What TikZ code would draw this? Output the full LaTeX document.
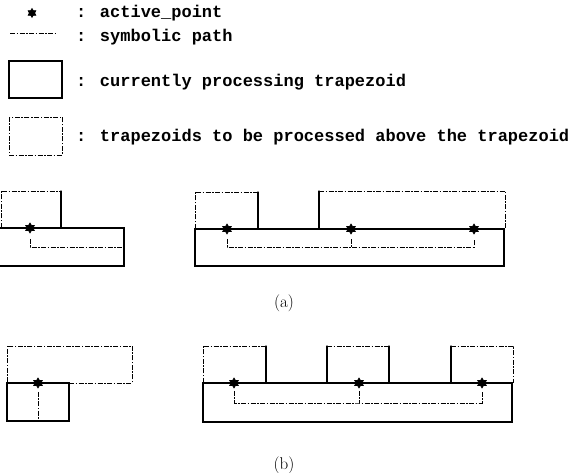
\documentclass[tikz,border=0pt]{standalone}
\usepackage{fontspec}
\newfontfamily\legendfont{Liberation Mono}
\usetikzlibrary{shapes.geometric}

\begin{document}
\begin{tikzpicture}[x=1pt, y=-1pt,
        cur/.style={line width=1.3pt, line cap=round},
        pend/.style={line width=0.7pt, dash pattern=on 5pt off 1.5pt on 1.5pt off 1.5pt},
        sym/.style={line width=0.7pt, dash pattern=on 5pt off 1.5pt on 1.5pt off 1.5pt},
        act/.style={star, star points=6, star point ratio=1.7, draw, line width=0.6pt, fill=black, inner sep=0pt, minimum size=10pt},
        leg/.style={anchor=base west, inner sep=0pt, font=\legendfont\bfseries\fontsize{17}{17}\selectfont},
        capt/.style={inner sep=0pt, font=\fontsize{17}{17}\selectfont}]
        \useasboundingbox (0,0) rectangle (574,473);
        % legend
        \node[act, minimum size=9pt] (lact) at (32,13) {};
        \node[leg] (tact) at (76,18) {: active\_point};
        \coordinate (ls1) at (10,33); \coordinate (ls2) at (55,33);
        \draw[sym] (ls1) -- (ls2);
        \node[leg] (tsym) at (76,42) {: symbolic path};
        \draw[cur] (9,61) rectangle (62,98);
        \node[leg] (tcur) at (76,87) {: currently processing trapezoid};
        \draw[pend] (9,117) rectangle (62,155);
        \node[leg] (tpen) at (76,142) {: trapezoids to be processed above the trapezoid};

        % (a) left
        \draw[pend] (1,228) -- (1,191) -- (61,191);
        \draw[cur] (61,191) -- (61,228);
        \draw[cur] (0,228) -- (124,228) -- (124,266) -- (0,266);
        \node[act] (pa) at (30,228) {};
        \coordinate (ea) at (124,247);
        \draw[sym] ([yshift=-11pt]pa.center) |- (ea);

        % (a) right
        \draw[pend] (195,229) -- (195,192) -- (258,192);
        \draw[cur] (258,192) -- (258,229);
        \draw[cur] (319,229) -- (319,191);
        \draw[pend] (319,191) -- (505,191) -- (505,229);
        \draw[cur] (195,229) rectangle (504,266);
        \node[act] (pa1) at (227,229) {};
        \node[act] (pa2) at (351,229) {};
        \node[act] (pa3) at (474,229) {};
        \coordinate (ja) at (351,247);
        \draw[sym] ([yshift=-10pt]pa1.center) |- (ja) -| ([yshift=-10pt]pa3.center);
        \draw[sym] ([yshift=-10pt]pa2.center) -- (ja);

        % (b) left
        \draw[pend] (69,383) -- (132,383) -- (132,346) -- (7,346) -- (7,383);
        \draw[cur] (7,383) rectangle (69,421);
        \node[act] (pb) at (38,383) {};
        \coordinate (eb) at (38,421);
        \draw[sym] ([yshift=-9pt]pb.center) -- (eb);

        % (b) right
        \draw[pend] (203,383) -- (203,346) -- (266,346);
        \draw[cur] (266,346) -- (266,383);
        \draw[cur] (327,383) -- (327,346);
        \draw[pend] (327,346) -- (389,346);
        \draw[cur] (389,346) -- (389,383);
        \draw[cur] (451,383) -- (451,346);
        \draw[pend] (451,346) -- (513,346) -- (513,383);
        \draw[cur] (203,383) rectangle (512,422);
        \node[act] (pb1) at (234,383) {};
        \node[act] (pb2) at (359,383) {};
        \node[act] (pb3) at (482,383) {};
        \coordinate (jb) at (359,403);
        \draw[sym] ([yshift=-8pt]pb1.center) |- (jb) -| ([yshift=-8pt]pb3.center);
        \draw[sym] ([yshift=-8pt]pb2.center) -- (jb);

        % captions
        \node[capt] (ca) at (284,303) {(a)};
        \node[capt] (cb) at (284,465) {(b)};
    \end{tikzpicture}
\end{document}
